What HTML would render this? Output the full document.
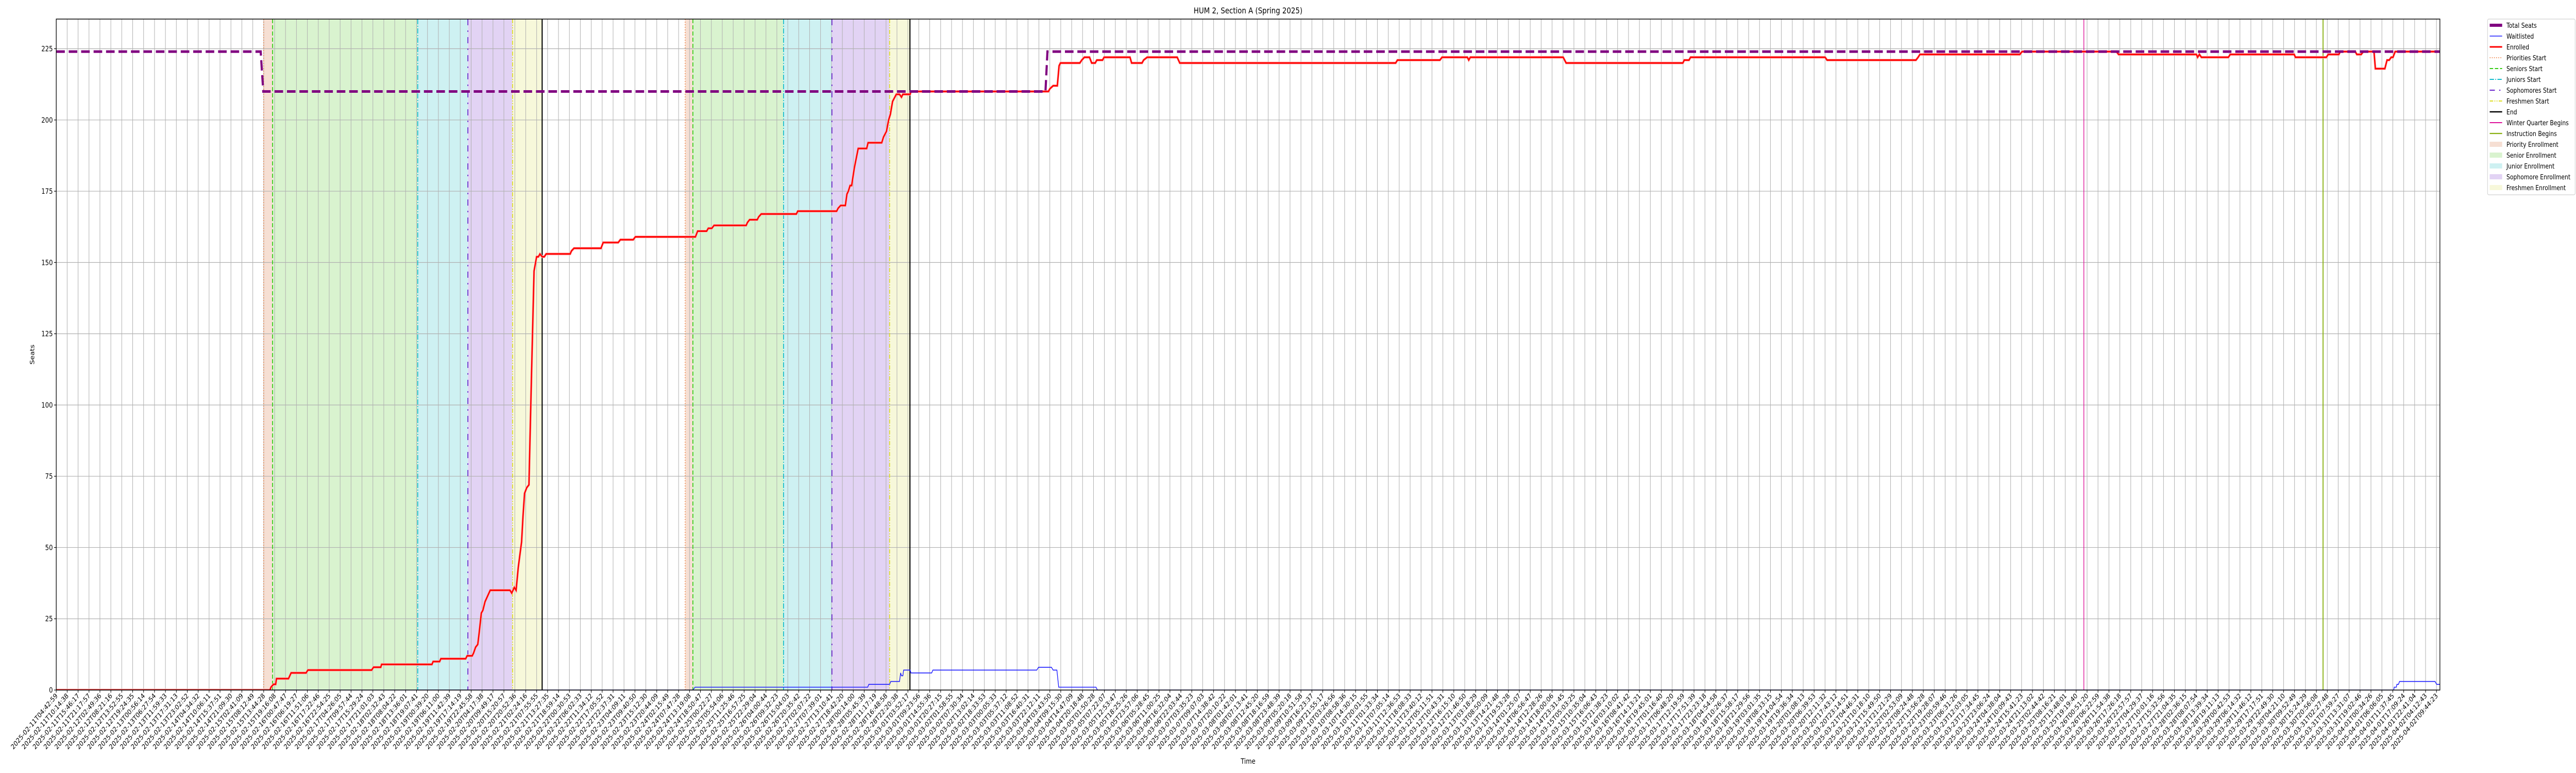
<!DOCTYPE html>
<html><head><meta charset="utf-8">
<style>
html,body{margin:0;padding:0;background:#fff;width:100vw;height:100vh;overflow:hidden;}
svg{display:block;font-family:"DejaVu Sans","Liberation Sans",sans-serif;overflow:hidden;width:100vw;height:100vh;}
</style></head>
<body>
<svg id="chart" viewBox="0 0 6000 1500" preserveAspectRatio="none" xmlns="http://www.w3.org/2000/svg">
<rect x="0" y="0" width="6000" height="1500" fill="#fff"/>
<text x="2907" y="26" font-size="16" text-anchor="middle">HUM 2, Section A (Spring 2025)</text>
<text x="2907" y="1482" font-size="14" text-anchor="middle">Time</text>
<text transform="translate(80,688) rotate(-90)" font-size="14" text-anchor="middle">Seats</text>
<g id="plot"></g>
<g id="legend"></g>
</svg>
<script>
// ---- data (x in hours since 2025-02-11T04:42:59, y in seats) ----
const totalSeatsX = [0, 103.5, 104.8, 500.8, 501.8, 1206.7];
const totalSeatsY = [224, 224, 210, 210, 224, 224];

const enrolledX = [0,108.2,108.7,110.0,111.1,111.5,117.6,118.9,126.5,127.4,159.7,160.6,164.3,164.7,190.2,190.8,194.1,194.7,207.3,208.0,210.6,211.3,212.3,213.4,214.1,215.2,216.0,217.1,219.7,229.7,230.6,231.9,232.8,233.9,235.6,236.3,237.1,238.2,239.3,240.6,241.9,243.2,244.1,244.9,246.0,247.1,248.0,260.2,260.8,262.1,275.8,276.9,284.5,285.6,292.1,293.2,323.6,324.7,329.3,330.1,331.9,333.0,349.3,349.9,351.0,354.9,355.6,356.9,374.7,375.4,395.1,395.8,397.1,399.5,400.3,401.0,401.9,402.7,404.0,406.0,410.3,411.0,417.9,418.8,420.3,421.4,422.3,423.4,425.3,426.9,427.9,428.6,432.3,432.7,502.3,503.1,504.7,506.8,507.7,508.4,518.2,519.2,520.5,523.1,524.2,526.0,526.8,529.7,530.5,543.6,544.4,549.7,550.5,552.3,567.5,568.8,678.1,679.0,700.5,701.6,714.4,715.1,715.9,762.9,764.4,823.5,824.2,826.6,827.4,895.5,896.5,941.5,942.6,943.5,994.1,995.2,1043.0,1044.1,1083.5,1084.1,1085.0,1086.0,1099.7,1100.6,1133.0,1133.6,1149.3,1150.2,1155.6,1156.3,1163.9,1164.7,1166.9,1168.0,1173.4,1174.1,1178.9,1180.0,1181.1,1182.1,1183.0,1184.1,1206.7];
const enrolledY = [0,0,1,2,2,4,4,6,6,7,7,8,8,9,9,10,10,11,11,12,12,13,15,16,20,27,28,31,35,35,34,36,35,43,52,61,69,71,72,110,147,152,152,153,152,152,153,153,154,155,155,157,157,158,158,159,159,161,161,162,162,163,163,164,165,165,166,167,167,168,168,169,170,170,174,175,177,177,183,190,190,192,192,194,196,200,202,206.5,209,209,208,209,209,210,210,211,212,212,219,220,220,221,222,222,220,220,221,221,222,222,220,220,221,222,222,220,220,221,221,222,222,221,222,222,220,220,221,221,222,222,221,221,222,223,223,224,224,223,223,222,223,222,222,223,223,222,222,223,223,224,224,223,223,224,224,218,218,221,221,222,222,224,224];

const waitlistX = [0,322.3,323.4,410.8,411.4,421.9,422.5,426.9,427.5,427.9,428.6,429.0,432.3,432.7,443.2,443.8,496.4,497.3,503.8,504.7,506.6,507.5,526.4,527.1,1183.4,1183.6,1184.7,1185.0,1185.8,1186.3,1204.3,1205.1,1206.7];
const waitlistY = [0,0,1,1,2,2,3,3,6,5,5,7,7,6,6,7,7,8,8,7,7,1,1,0,0,1,1,2,2,3,3,2,2];

const phaseNames = ["priority","senior","junior","sophomore","freshmen"];
const cycle1Starts = [105.0, 109.5, 183.0, 208.4, 231.0];
const cycle1End = 246.0;
const cycle2Starts = [318.4, 322.3, 368.2, 392.7, 421.9];
const cycle2End = 432.2;
const winterBegins = 1026.5;
const instructionBegins = 1147.6;

const yTicks = [0,25,50,75,100,125,150,175,200,225];
const tickStart = "2025-02-11T04:42:59Z";
const tickEnd = "2025-04-02T09:44:23Z";
const tickCount = 219;

// ---- layout ----
const L=131, R=5683, T=37, B=1339;
const H_END_TICK = 1205.02;
const X_LAST_TICK = 5675;
const xs = h => L + h*(X_LAST_TICK-L)/H_END_TICK;
const Y_MAX = 235.4;
const ys = v => B - v*(B-T)/Y_MAX;

const NS="http://www.w3.org/2000/svg";
const plot=document.getElementById('plot');
function mk(tag, attrs, parent){
  const e=document.createElementNS(NS,tag);
  for(const k in attrs) e.setAttribute(k, attrs[k]);
  (parent||plot).appendChild(e); return e;
}
const clip = mk('clipPath',{id:'pc'}); mk('rect',{x:L,y:T,width:R-L,height:B-T},clip);

const shadeColors = ["#f6dfd3","#d9f3cf","#cef1f2","#e2d3f4","#f7f8da"];
function shadeCycle(starts,end,cyc){
  for(let i=0;i<starts.length;i++){
    const x0=xs(starts[i]), x1=xs(i<starts.length-1?starts[i+1]:end);
    const r=mk('rect',{x:x0,y:T,width:x1-x0,height:B-T,fill:shadeColors[i]});
    
    
  }
}
shadeCycle(cycle1Starts,cycle1End,1);
shadeCycle(cycle2Starts,cycle2End,2);

const tickX=[];
const t0=Date.parse(tickStart), t1=Date.parse(tickEnd);
for(let i=0;i<tickCount;i++) tickX.push((t1-t0)/3600000*i/(tickCount-1));
tickX.forEach((h,i)=>{
  const x=xs(h);
  const g=mk('line',{x1:x,x2:x,y1:T,y2:B,stroke:'#b0b0b0','stroke-width':1.2});
  
  
});
yTicks.forEach(v=>{
  const y=ys(v);
  const g=mk('line',{x1:L,x2:R,y1:y,y2:y,stroke:'#b0b0b0','stroke-width':1.2});
  
  
});

const lineStyles = [
  {c:'#ee7733',w:1.5,d:'2,3'},
  {c:'#33cc11',w:2,d:'8,4'},
  {c:'#11bbcc',w:2,d:'10,3,2,3'},
  {c:'#6622cc',w:2,d:'12,10,3,10'},
  {c:'#dddd22',w:2,d:'8,3,2,3,2,3'}
];
function vline(h,st,name){
  const x=xs(h);
  const l=mk('line',{x1:x,x2:x,y1:T,y2:B,stroke:st.c,'stroke-width':st.w});
  if(st.d) l.setAttribute('stroke-dasharray',st.d);
  
  
}
cycle1Starts.forEach((h,i)=>vline(h,lineStyles[i],phaseNames[i]+'-start-line-1'));
cycle2Starts.forEach((h,i)=>vline(h,lineStyles[i],phaseNames[i]+'-start-line-2'));
vline(cycle1End,{c:'#000',w:2.5},'end-line-1');
vline(cycle2End,{c:'#000',w:2.5},'end-line-2');
vline(winterBegins,{c:'#dd1199',w:1.6},'winter-quarter-line');
vline(instructionBegins,{c:'#88b011',w:2.2},'instruction-begins-line');

function pathD(X,Y){return X.map((h,i)=>(i?'L':'M')+xs(h).toFixed(1)+','+ys(Y[i]).toFixed(1)).join('');}
const wl=mk('path',{d:pathD(waitlistX,waitlistY),fill:'none',stroke:'#1a1aff','stroke-width':1.6,'clip-path':'url(#pc)'});


const enh=mk('path',{d:pathD(enrolledX,enrolledY),fill:'none',stroke:'#ffb0b0','stroke-width':5,'clip-path':'url(#pc)'});


const en=mk('path',{d:pathD(enrolledX,enrolledY),fill:'none',stroke:'#ff0000','stroke-width':3,'clip-path':'url(#pc)'});


const ts=mk('path',{d:pathD(totalSeatsX,totalSeatsY),fill:'none',stroke:'#800080','stroke-width':5,'stroke-dasharray':'20,9','clip-path':'url(#pc)'});



const fr=mk('rect',{x:L,y:T,width:R-L,height:B-T,fill:'none',stroke:'#000','stroke-width':1.5});



yTicks.forEach(v=>{
  const y=ys(v);
  const tk=mk('line',{x1:L-5,x2:L,y1:y,y2:y,stroke:'#000','stroke-width':1.2});
  
  
  const t=mk('text',{x:L-8,y:y+5,'font-size':14,'text-anchor':'end'});
  t.textContent=String(v);
  
  
});
function fmt(ms){return new Date(ms).toISOString().slice(0,19);}
tickX.forEach((h,i)=>{
  const x=xs(h);
  const tk=mk('line',{x1:x,x2:x,y1:B,y2:B+5,stroke:'#000','stroke-width':1.2});
  
  
  const t=mk('text',{transform:`translate(${x+4},${B+12}) rotate(-45)`,'font-size':13.5,'text-anchor':'end'});
  t.textContent=fmt(t0+h*3600000);
  
  
});

const lg=document.getElementById('legend');
mk('rect',{x:5794,y:37,width:204,height:341,rx:3,fill:'#fff',stroke:'#d0d0d0','stroke-width':1.2},lg);
const legendLabels=["Total Seats","Waitlisted","Enrolled","Priorities Start","Seniors Start","Juniors Start","Sophomores Start","Freshmen Start","End","Winter Quarter Begins","Instruction Begins","Priority Enrollment","Senior Enrollment","Junior Enrollment","Sophomore Enrollment","Freshmen Enrollment"];
const legendStyles=[
  {c:'#800080',w:6},{c:'#1a1aff',w:1.6},{c:'#ff0000',w:3},
  lineStyles[0],lineStyles[1],lineStyles[2],lineStyles[3],lineStyles[4],
  {c:'#000',w:2.5},{c:'#dd1199',w:2},{c:'#88b011',w:2.2},
  {f:shadeColors[0]},{f:shadeColors[1]},{f:shadeColors[2]},{f:shadeColors[3]},{f:shadeColors[4]}
];
legendLabels.forEach((lab,i)=>{
  const y=49+i*21;
  const s=legendStyles[i];
  const g=mk('g',{},lg);
  
  
  if(s.f){ mk('rect',{x:5799,y:y-5,width:29,height:10,fill:s.f},g); }
  else { const l=mk('line',{x1:5799,x2:5828,y1:y,y2:y,stroke:s.c,'stroke-width':s.w},g); if(s.d) l.setAttribute('stroke-dasharray',s.d); }
  const t=mk('text',{x:5838,y:y+5,'font-size':13},g);
  t.textContent=lab;
});
</script>
</body></html>
